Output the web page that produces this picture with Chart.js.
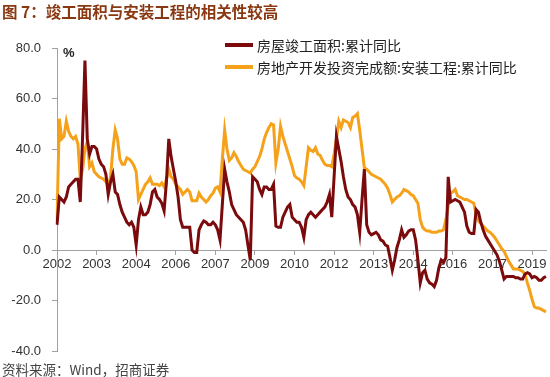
<!DOCTYPE html>
<html>
<head>
<meta charset="utf-8">
<script src="https://cdn.jsdelivr.net/npm/chart.js@4"></script>
<style>
  body { margin: 0; background: #fff; }
  #wrap { position: relative; width: 550px; height: 377px; overflow: hidden; }
  #chart { position: absolute; left: 0; top: 0; }
  .title { position: absolute; left: 2px; top: 0px; font: bold 15.5px "Noto Sans CJK SC", sans-serif; color: #8a3812; white-space: nowrap; }
  .unit { position: absolute; left: 63px; top: 45px; font: bold 13px "Liberation Sans", Arial, sans-serif; color: #222; }
  .source { position: absolute; left: 2px; top: 359px; font: 13.5px "Noto Sans CJK SC", sans-serif; color: #444; white-space: nowrap; }
  .legend { position: absolute; left: 225px; top: 34px; font: 14px "Noto Sans CJK SC", sans-serif; color: #222; }
  .legend .row { display: flex; align-items: center; height: 22px; white-space: nowrap; }
  .legend .swatch { width: 28px; height: 4px; margin-right: 4px; }
</style>
</head>
<body>
<div id="wrap">
  <canvas id="chart" width="550" height="377"></canvas>
  <div class="title">图 7：竣工面积与安装工程的相关性较高</div>
  <div class="unit">%</div>
  <div class="legend" id="legend"></div>
  <div class="source">资料来源：Wind，招商证券</div>
</div>
<script>
// monthly, starting 2002-02
const startYear = 2002;
const startMonth = 2;
const tickEvery = 17;
const tickLabels = ['2002', '2003', '2004', '2006', '2007', '2009', '2010', '2012', '2013', '2014', '2016', '2017', '2019'];

const seriesNames = ['房屋竣工面积:累计同比', '房地产开发投资完成额:安装工程:累计同比'];

// 房屋竣工面积:累计同比
const completionYoY = [
  10, 21, 20, 19, 21, 25, 26, 27, 28, 28,
  19, 45, 75, 44, 38, 41, 41, 40, 36, 34,
  33, 30, 22, 27, 30, 23, 22, 18, 15, 13,
  11, 10, 11, 9, 2, 12, 17, 14, 14, 15,
  18, 23, 24, 21, 20, 18.5, 15.5, 27, 44, 37,
  32, 27, 21, 12, 9, 9, 9, 9, 0, -1,
  -1, 8, 10, 11.5, 11, 10, 10, 11, 10, 8,
  4, 18, 32, 27, 23, 18, 16, 14, 13, 12,
  11, 8, 2, -4, 29, 28, 27, 24, 22, 25,
  25, 24, 24, 26, 9.5, 9, 9, 13, 15, 17,
  18, 13, 12, 11, 11, 9, 5, 12, 14, 15,
  14, 13, 14, 15, 16, 17, 19, 22, 13, 29,
  45, 40, 35, 29, 24, 21, 20, 18, 17, 14,
  7, 20, 32, 10, 7, 6, 6.5, 7, 6, 4,
  3.5, 2, 1.5, -3, -8, -4, 1, 4, 8, 5,
  6, 7.5, 8, 8, 4, -4, -13, -9, -8, -11.5,
  -13, -13.5, -14.5, -12, -7, -4, -5, -3, 29, 19,
  19.5, 20, 19.5, 19, 17, 15, 9.5, 7, 6.5, 6.5,
  16, 15, 11, 8, 5.5, 4, 2.5, 1, -0.5, -2,
  -4.5, -8, -11.5, -10.5, -10.5, -10.5, -10.5, -11, -11, -11.5,
  -11.5, -9.5, -9, -9.5, -11, -10.5, -11, -12, -12, -11,
  -10.5
];

// 房地产开发投资完成额:安装工程:累计同比
const installYoY = [
  12, 52, 44, 45, 51, 47, 45, 44, 45, 42,
  28, 32, 40, 43, 33, 34.5, 31, 30, 29, 28.5,
  28, 27, 25.5, 29, 40, 47.5, 44, 36, 34, 34,
  36.5, 36, 35, 33.5, 31, 20, 22, 24, 26, 27,
  28.5, 26, 26, 26, 25.5, 26.5, 25, 28, 32, 29,
  28, 26, 25, 24, 22, 23, 24, 23, 19.5, 19.5,
  19.5, 22.5, 21, 20, 19, 20, 21.5, 22.5, 24.5, 25,
  23, 36, 47.5, 40, 35.5, 36.5, 38.5, 37, 35, 33.5,
  32, 31.5, 31, 30.5, 32, 33, 35, 37, 40, 44,
  46.5, 48.5, 50, 49.5, 34.5, 40, 49, 45, 42, 39,
  36, 33, 29.5, 28.5, 28, 27, 25.5, 33, 40.5, 39.5,
  39, 40.5, 38, 37.5, 35.5, 34, 33.5, 33.5, 33, 38,
  44, 51, 48.5, 51.5, 51, 50.5, 48.5, 52.5, 53, 54,
  47.5, 40, 32.5, 32, 31, 30, 29.5, 29, 28.5, 28,
  27, 26, 24.5, 22, 19, 20, 21, 21.5, 22.5, 24,
  23.5, 23, 22, 21.5, 20, 18.5, 12, 9, 8, 7.5,
  7.5, 7, 7, 7, 7.5, 7.5, 8, 12, 17.5, 22.5,
  23, 24, 21.5, 21, 20.5, 20, 20, 19.5, 19, 18.5,
  14, 11.5, 10.5, 9.5, 8.5, 7.5, 7, 6, 5, 3.5,
  2, 0.5, -0.5, -2.5, -4.5, -6, -7.5, -7.5, -7.5, -8,
  -8.5, -9.5, -13, -16, -19.5, -22.5, -23, -23, -23.5, -24,
  -24.5
];

const months = completionYoY.map((_, i) => {
  const m = startMonth - 1 + i;
  const y = startYear + Math.floor(m / 12);
  return y + '-' + String(m % 12 + 1).padStart(2, '0');
});

const axisFont = { family: '"Liberation Sans", Arial, sans-serif', size: 13 };
const axisGray = '#a0a0a0';

const ctx = document.getElementById('chart').getContext('2d');
const chart = new Chart(ctx, {
  type: 'line',
  data: {
    labels: months,
    datasets: [
      { label: seriesNames[0], data: completionYoY, borderColor: '#7a0a0c', backgroundColor: '#7a0a0c', borderWidth: 3, pointRadius: 0, tension: 0 },
      { label: seriesNames[1], data: installYoY, borderColor: '#f5a21a', backgroundColor: '#f5a21a', borderWidth: 3, pointRadius: 0, tension: 0 }
    ]
  },
  options: {
    responsive: false,
    animation: false,
    layout: { padding: { left: 0, right: 4, top: 48, bottom: 26 } },
    plugins: { legend: { display: false }, tooltip: { enabled: false } },
    scales: {
      x: {
        position: { y: 0 },
        offset: false,
        grid: { drawOnChartArea: false, tickLength: 4, color: axisGray },
        border: { color: axisGray },
        ticks: {
          autoSkip: false,
          maxRotation: 0,
          padding: 3,
          font: axisFont,
          color: '#333',
          callback: (v, i) => (i % tickEvery === 0 ? tickLabels[i / tickEvery] : null)
        }
      },
      y: {
        min: -40,
        max: 80,
        grid: { drawOnChartArea: false, tickLength: 5, color: axisGray },
        border: { color: axisGray },
        ticks: { stepSize: 20, padding: 11, font: axisFont, color: '#333', callback: v => v.toFixed(1) },
        afterFit: s => { s.width = 57; }
      }
    }
  }
});

// --- legend inside the plot, top right ---
const legendEl = document.getElementById('legend');
chart.data.datasets.forEach(ds => {
  const row = document.createElement('div');
  row.className = 'row';
  const sw = document.createElement('span');
  sw.className = 'swatch';
  sw.style.background = ds.borderColor;
  const txt = document.createElement('span');
  txt.textContent = ds.label;
  row.appendChild(sw);
  row.appendChild(txt);
  legendEl.appendChild(row);
});
</script>
</body>
</html>
